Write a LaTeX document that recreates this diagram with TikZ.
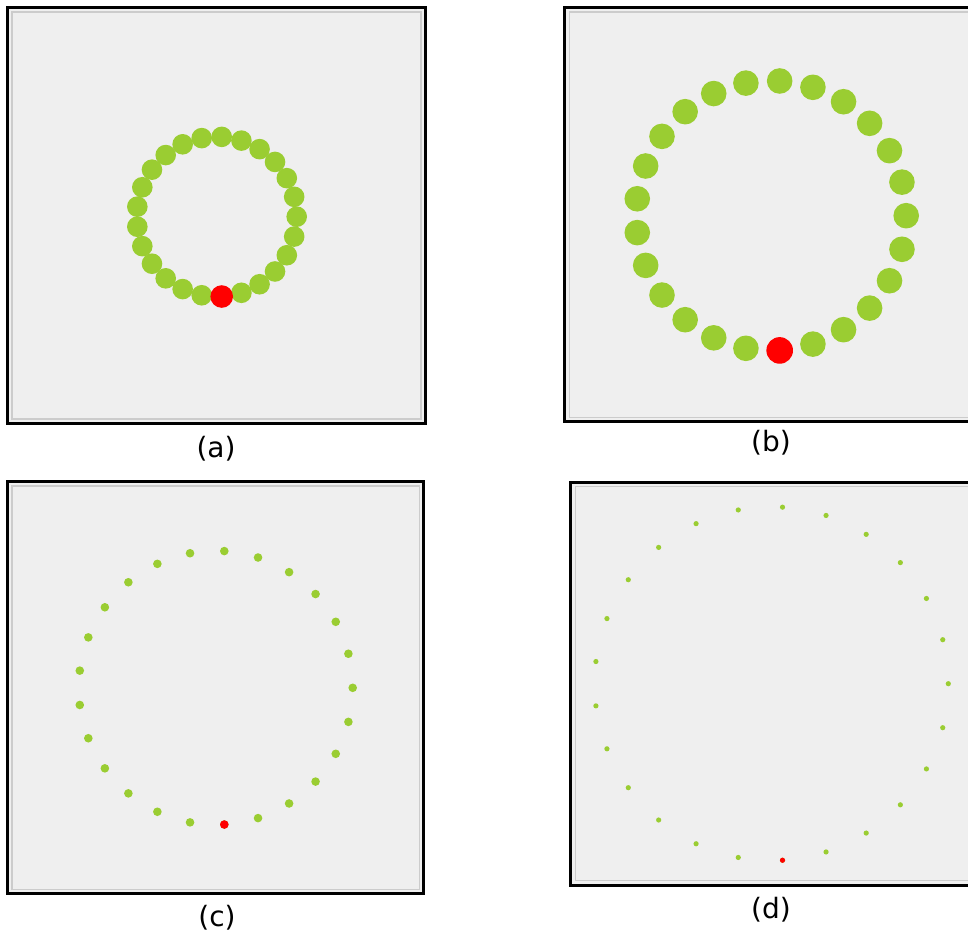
\documentclass[tikz,border=0pt]{standalone}
\usepackage{fontspec}
\setmainfont{DejaVu Sans}
\definecolor{beadgreen}{RGB}{154,205,50}
\definecolor{panelgray}{HTML}{EFEFEF}
\tikzset{
  panel/.style={draw=black, line width=1.5pt, fill=panelgray},
  bevel/.style={draw=black!20, line width=0.75pt},
  bead/.style={circle, fill=beadgreen, inner sep=0pt},
  hit/.style={circle, fill=red, inner sep=0pt},
  sublabel/.style={font=\fontsize{14}{16}\selectfont, inner sep=0pt}
}

\begin{document}
\begin{tikzpicture}[x=0.5pt, y=-0.5pt]
  \useasboundingbox (0,0) rectangle (968,936);
  \clip (0,0) rectangle (968,936);
  % panel / frame corners / ring centre, radius / bead and hit size / label spot
  \foreach \p/\xl/\yt/\xr/\yb/\cx/\cy/\rr/\dr/\hr/\lx/\ly in {
      a/7.5/7.5/425.5/423.5/216.7/216.7/80/20.6/22.6/216/449,
      b/564.8/7.5/975/421.8/771.2/215.7/135/25.6/26.6/771/443,
      c/7.5/481.5/423.8/893.8/215.7/687.8/137/8.6/8.6/217/918,
      d/570.8/482.2/975/885.2/771.4/683.7/176.9/5.2/5.2/771/910}{
    \draw[panel] (\xl,\yt) rectangle (\xr,\yb);
    \draw[bevel] (\xl+4.5,\yt+4.5) rectangle (\xr-4.5,\yb-4.5);
    \foreach \k in {0,...,24}
      \node[bead, minimum size=\dr*0.5pt] (\p-\k)
        at ({\cx+\rr*cos(14.4*\k)}, {\cy-\rr*sin(14.4*\k)}) {};
    \node[hit, minimum size=\hr*0.5pt] (\p-hit) at (\p-19) {};
    \node[sublabel] (\p-lab) at (\lx,\ly) {(\p)};
  }
\end{tikzpicture}
\end{document}
